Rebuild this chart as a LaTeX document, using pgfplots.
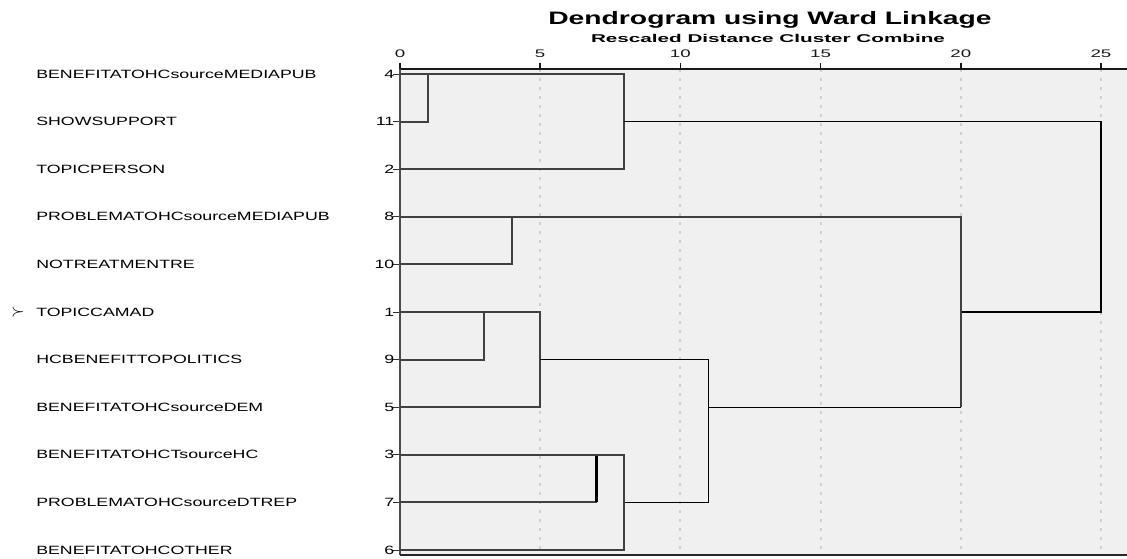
\documentclass[border=0pt]{standalone}
\usepackage{fontspec}
\setmainfont[FakeStretch=1.48]{Liberation Sans}
\newfontfamily\titlefont[FakeStretch=1.57]{Liberation Sans}
\newfontfamily\subfont[FakeStretch=1.83]{Liberation Sans}
\newfontfamily\tickfont[FakeStretch=1.7]{Liberation Sans}
\usepackage{pgfplots}
\pgfplotsset{compat=1.18}
\definecolor{bg}{HTML}{F0F0F0}
\definecolor{gridc}{HTML}{CFCFCF}
\newcommand{\lab}[3]{\makebox[383pt]{\makebox[25pt][l]{#1}#2\hfill #3}}
\begin{document}
\begin{tikzpicture}
\begin{axis}[
  at={(0pt,0pt)}, anchor=south west,
  scale only axis, width=745pt, height=486pt,
  xmin=0, xmax=26.57, ymin=0.895, ymax=11.105, y dir=reverse,
  axis x line*=top, axis y line*=left,
  x axis line style={black!90, line width=1.2pt},
  y axis line style={black!70, line width=2.6pt},
  xtick={0,5,10,15,20,25}, ytick={1,2,3,4,5,6,7,8,9,10,11},
  yticklabels={
    {\lab{}{BENEFITATOHCsourceMEDIAPUB}{4}},
    {\lab{}{SHOWSUPPORT}{11}},
    {\lab{}{TOPICPERSON}{2}},
    {\lab{}{PROBLEMATOHCsourceMEDIAPUB}{8}},
    {\lab{}{NOTREATMENTRE}{10}},
    {\lab{{\fontsize{17}{18}\selectfont$\succ$}}{TOPICCAMAD}{1}},
    {\lab{}{HCBENEFITTOPOLITICS}{9}},
    {\lab{}{BENEFITATOHCsourceDEM}{5}},
    {\lab{}{BENEFITATOHCTsourceHC}{3}},
    {\lab{}{PROBLEMATOHCsourceDTREP}{7}},
    {\lab{}{BENEFITATOHCOTHER}{6}}},
  tick align=outside, major tick length=6.5pt,
  xtick style={black!90, line width=1.5pt},
  ytick style={black!80, line width=1pt},
  xmajorgrids,
  grid style={gridc, dash pattern=on 3pt off 6pt, line width=2pt},
  axis background/.style={fill=bg},
  /pgf/number format/assume math mode=true,
  xticklabel style={font=\tickfont\fontsize{11}{12}\selectfont, text=black!90, inner sep=0pt, yshift=5pt},
  yticklabel style={font=\fontsize{12}{14}\selectfont, text=black, anchor=east, inner sep=0pt, xshift=1pt},
  clip=false,
  dend/.style={black!75, line width=1.9pt, mark=none, line join=miter},
  top/.style={black, line width=1.3pt, mark=none, line join=miter},
]
\addplot[dend] coordinates {(0,2) (1,2) (1,1)};
\addplot[dend] coordinates {(0,1) (8,1) (8,3) (0,3)};
\addplot[top]  coordinates {(8,2) (25,2) (25,6) (20,6)};
\addplot[dend] coordinates {(0,5) (4,5) (4,4)};
\addplot[dend] coordinates {(0,4) (20,4) (20,8)};
\addplot[top]  coordinates {(20,8) (11,8)};
\addplot[dend] coordinates {(0,7) (3,7) (3,6)};
\addplot[dend] coordinates {(0,6) (5,6) (5,8) (0,8)};
\addplot[top]  coordinates {(5,7) (11,7) (11,10) (8,10)};
\addplot[dend] coordinates {(0,10) (7,10) (7,9)};
\addplot[black, line width=2.8pt, mark=none] coordinates {(7,9) (7,10)};
\addplot[dend] coordinates {(0,9) (8,9) (8,11) (0,11)};
\draw[black!85, line width=1.4pt] (axis cs:0,11.105) -- (axis cs:26.57,11.105);
\end{axis}
\node[font=\titlefont\bfseries\fontsize{18}{20}\selectfont, text=black] at (370pt,535pt) {Dendrogram using Ward Linkage};
\node[font=\subfont\bfseries\fontsize{11.3}{13}\selectfont, text=black] at (368pt,517pt) {Rescaled Distance Cluster Combine};
\pgfresetboundingbox
\path[use as bounding box] (-400pt,-3pt) rectangle (727pt,555pt);
\end{tikzpicture}
\end{document}
